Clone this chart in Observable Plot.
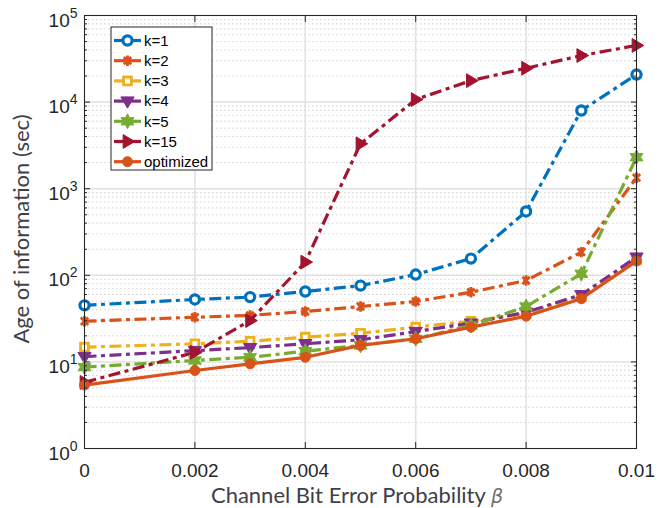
<!DOCTYPE html>
<html><head><meta charset="utf-8">
<script src="https://cdn.jsdelivr.net/npm/d3@7"></script>
<script src="https://cdn.jsdelivr.net/npm/@observablehq/plot@0.6"></script>
<style>body{margin:0;background:#fff} #chart{width:670px;height:508px}</style>
</head><body><div id="chart"></div>
<script>
// ---- data ----
const beta = [0, 0.002, 0.003, 0.004, 0.005, 0.006, 0.007, 0.008, 0.009, 0.01];
const k1 = [45, 52.6, 56, 65, 76, 102, 156, 546, 8000, 20800];
const k2 = [29.5, 32.8, 34.4, 38.2, 43.6, 49.8, 63.8, 87, 185, 1340];
const k3 = [14.8, 16.2, 17.3, 19.3, 21.4, 25.2, 29.5, 36, 57, 150];
const k4 = [11.5, 13.5, 14.6, 16.2, 18, 22.4, 28, 37.5, 59.6, 162];
const k5 = [8.7, 10.4, 11.3, 13.3, 15.5, 18.5, 26.3, 43.6, 104, 2310];
const k15 = [5.8, 12.9, 30, 142, 3300, 10700, 17700, 24600, 34500, 45100];
const optimized = [5.4, 7.96, 9.5, 11.3, 15.5, 18.5, 25.2, 33.7, 53.6, 146];
const seriesNames = ["k=1", "k=2", "k=3", "k=4", "k=5", "k=15", "optimized"];
const yTicks = [1, 10, 100, 1000, 10000, 100000];
const xTicks = [0, 0.002, 0.004, 0.006, 0.008, 0.01];
const xTickLabels = ["0", "0.002", "0.004", "0.006", "0.008", "0.01"];
const xLabel = "Channel Bit Error Probability ";
const xLabelSymbol = "β";
const yLabel = "Age of information (sec)";

// ---- custom symbols ----
const R = size => Math.sqrt(size / Math.PI);
const triDown = {draw(c, size) { const s = R(size) * 1.25; c.moveTo(0, s); c.lineTo(-s * 0.95, -s * 0.6); c.lineTo(s * 0.95, -s * 0.6); c.closePath(); }};
const triRight = {draw(c, size) { const s = R(size) * 1.25; c.moveTo(s, 0); c.lineTo(-s * 0.6, -s * 0.95); c.lineTo(-s * 0.6, s * 0.95); c.closePath(); }};
const hexStar = {draw(c, size) { const o = R(size) * 1.2, inn = o * 0.55; for (let i = 0; i < 12; i++) { const a = -Math.PI / 2 + i * Math.PI / 6; const rr = i % 2 ? inn : o; const x = rr * Math.cos(a), y = rr * Math.sin(a); i ? c.lineTo(x, y) : c.moveTo(x, y); } c.closePath(); }};
const asterisk = {draw(c, size) { const s = R(size); for (const a of [Math.PI / 4, -Math.PI / 4, Math.PI / 2]) { c.moveTo(-s * Math.cos(a), -s * Math.sin(a)); c.lineTo(s * Math.cos(a), s * Math.sin(a)); } }};
const squareSym = {draw(c, size) { const s = R(size) * 0.85; c.rect(-s, -s, 2 * s, 2 * s); }};

const values = [k1, k2, k3, k4, k5, k15, optimized];
const dashDot = "12,4.5,4,4.5";
const styles = [
  {color: "#0072BD", dash: dashDot, symbol: "circle", r: 4.6, fill: "#fff", sw: 3.2},
  {color: "#D95319", dash: dashDot, symbol: asterisk, r: 5.2, fill: "none", sw: 2.8},
  {color: "#EDB120", dash: dashDot, symbol: squareSym, r: 4.6, fill: "#fff", sw: 2.8},
  {color: "#7E2F8E", dash: dashDot, symbol: triDown, r: 5.6, fill: "#7E2F8E", sw: 1},
  {color: "#77AC30", dash: dashDot, symbol: hexStar, r: 6.2, fill: "#77AC30", sw: 1},
  {color: "#A2142F", dash: dashDot, symbol: triRight, r: 5.8, fill: "#A2142F", sw: 1},
  {color: "#D95319", dash: null, symbol: "circle", r: 5, fill: "#D95319", sw: 1}
];

const rows = [];
seriesNames.forEach((name, i) => beta.forEach((b, j) => rows.push({name, beta: b, age: values[i][j]})));

const minorY = [];
for (let d = 0; d < 5; d++) for (let m = 2; m <= 9; m++) minorY.push(m * 10 ** d);

const seriesMarks = [];
seriesNames.forEach((name, i) => {
  const st = styles[i];
  const data = rows.filter(r => r.name === name);
  seriesMarks.push(Plot.line(data, {x: "beta", y: "age", stroke: st.color, strokeWidth: 3.2, strokeDasharray: st.dash, strokeLinecap: "butt", strokeLinejoin: "round"}));
  seriesMarks.push(Plot.dot(data, {x: "beta", y: "age", symbol: st.symbol, r: st.r, fill: st.fill, stroke: st.color, strokeWidth: st.sw}));
});

const plot = Plot.plot({
  width: 670, height: 508,
  marginLeft: 84, marginRight: 34, marginTop: 15, marginBottom: 60,
  style: {fontFamily: "'Liberation Sans', Arial, sans-serif", fontSize: "19px", color: "#262626", background: "#fff", overflow: "visible"},
  x: {domain: [0, 0.01]},
  y: {type: "log", domain: [1, 1e5]},
  marks: [
    Plot.gridY(minorY, {stroke: "#d2d2d2", strokeOpacity: 1, strokeWidth: 1, strokeDasharray: "1.5,2.5"}),
    Plot.gridY(yTicks, {stroke: "#e0e0e0", strokeOpacity: 1, strokeWidth: 1.5}),
    Plot.gridX(xTicks, {stroke: "#e0e0e0", strokeOpacity: 1, strokeWidth: 1.5}),
    ...seriesMarks,
    Plot.frame({stroke: "#262626", strokeWidth: 1}),
    Plot.axisY(yTicks, {anchor: "left", tickSize: 0, tickPadding: 7, dy: 5, label: null, tickFormat: d => "10^" + Math.round(Math.log10(d))}),
    Plot.axisY(yTicks, {anchor: "left", tickSize: -6, fill: "none", label: null}),
    Plot.axisY(yTicks, {anchor: "right", tickSize: -6, fill: "none", label: null}),
    Plot.axisY(minorY, {anchor: "left", tickSize: -3, fill: "none", label: null}),
    Plot.axisY(minorY, {anchor: "right", tickSize: -3, fill: "none", label: null}),
    Plot.axisX(xTicks, {anchor: "bottom", tickSize: 0, tickPadding: 15, label: null, tickFormat: d => xTickLabels[xTicks.indexOf(d)]}),
    Plot.axisX(xTicks, {anchor: "bottom", tickSize: -6, fill: "none", label: null}),
    Plot.axisX(xTicks, {anchor: "top", tickSize: -6, fill: "none", label: null})
  ]
});

const svg = d3.select(plot);
// superscript tick labels
svg.selectAll('g[aria-label="y-axis tick label"] text').each(function() {
  const t = d3.select(this);
  const parts = t.text().split("^");
  t.text(null);
  t.append("tspan").text(parts[0]);
  t.append("tspan").attr("dy", -9).attr("font-size", "14px").text(parts[1]);
});

// axis titles
const labelFont = "Lato, 'Open Sans', sans-serif";
svg.append("text")
  .attr("transform", "translate(29,229) rotate(-90)")
  .attr("text-anchor", "middle").attr("font-family", labelFont).attr("font-size", 22)
  .attr("fill", "#404048").text(yLabel);
const xl = svg.append("text")
  .attr("x", 357).attr("y", 503)
  .attr("text-anchor", "middle").attr("font-family", labelFont).attr("font-size", 22)
  .attr("fill", "#404048");
xl.append("tspan").text(xLabel);
xl.append("tspan").attr("font-family", "'DejaVu Sans', sans-serif").attr("font-style", "italic").attr("font-size", 19).attr("fill", "#707070").text(xLabelSymbol);

// legend
const lg = svg.append("g").attr("aria-label", "legend").attr("text-anchor", "start");
lg.append("rect").attr("x", 111).attr("y", 27).attr("width", 101).attr("height", 143)
  .attr("fill", "#fff").attr("stroke", "#262626").attr("stroke-width", 1);
seriesNames.forEach((name, i) => {
  const st = styles[i];
  const y = 40.5 + i * 20.2;
  lg.append("line").attr("x1", 114).attr("x2", 141).attr("y1", y).attr("y2", y)
    .attr("stroke", st.color).attr("stroke-width", 3.2);
  const symType = typeof st.symbol === "string" ? d3.symbolCircle : st.symbol;
  lg.append("path").attr("transform", `translate(127.5,${y})`)
    .attr("d", d3.symbol(symType, st.r * st.r * Math.PI)())
    .attr("fill", st.fill).attr("stroke", st.color).attr("stroke-width", st.sw);
  lg.append("text").attr("x", 144).attr("y", y).attr("dy", "0.35em").attr("text-anchor", "start")
    .attr("font-family", "'Liberation Sans', Arial, sans-serif").attr("font-size", 15)
    .attr("fill", "#000").text(name);
});

document.getElementById("chart").appendChild(plot);
</script>
</body></html>
